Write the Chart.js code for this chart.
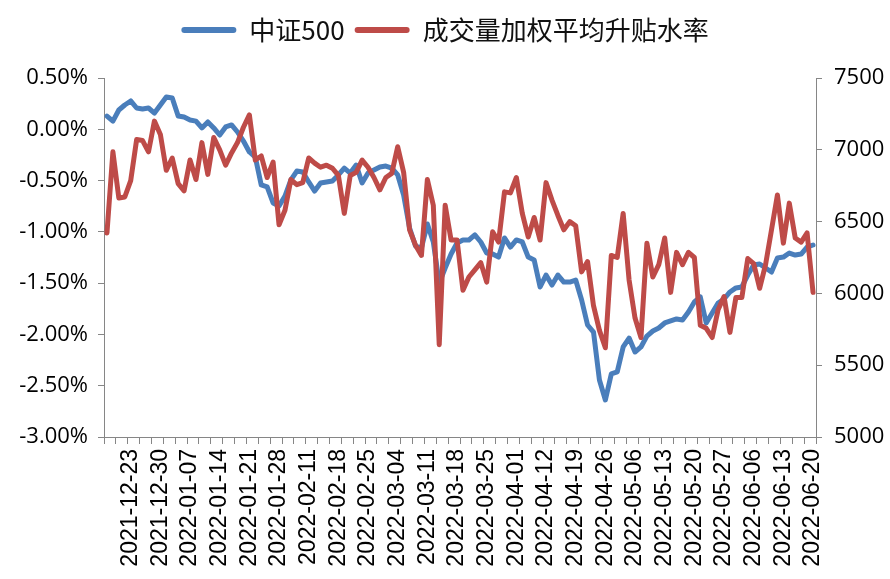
<!DOCTYPE html>
<html>
<head>
<meta charset="utf-8">
<script src="https://cdn.jsdelivr.net/npm/chart.js@4.4.1/dist/chart.umd.min.js"></script>
<style>
  html, body { margin: 0; padding: 0; background: #ffffff; }
  #wrap { width: 890px; height: 579px; }
</style>
</head>
<body>
<div id="wrap"><canvas id="c" width="890" height="579"></canvas></div>
<script>
// Trading days (categories)
const dates = [
  "2021-12-17","2021-12-20","2021-12-21","2021-12-22","2021-12-23","2021-12-24","2021-12-27","2021-12-28","2021-12-29","2021-12-30",
  "2021-12-31","2022-01-04","2022-01-05","2022-01-06","2022-01-07","2022-01-10","2022-01-11","2022-01-12","2022-01-13","2022-01-14",
  "2022-01-17","2022-01-18","2022-01-19","2022-01-20","2022-01-21","2022-01-24","2022-01-25","2022-01-26","2022-01-27","2022-01-28",
  "2022-02-07","2022-02-08","2022-02-09","2022-02-10","2022-02-11","2022-02-14","2022-02-15","2022-02-16","2022-02-17","2022-02-18",
  "2022-02-21","2022-02-22","2022-02-23","2022-02-24","2022-02-25","2022-02-28","2022-03-01","2022-03-02","2022-03-03","2022-03-04",
  "2022-03-07","2022-03-08","2022-03-09","2022-03-10","2022-03-11","2022-03-14","2022-03-15","2022-03-16","2022-03-17","2022-03-18",
  "2022-03-21","2022-03-22","2022-03-23","2022-03-24","2022-03-25","2022-03-28","2022-03-29","2022-03-30","2022-03-31","2022-04-01",
  "2022-04-06","2022-04-07","2022-04-08","2022-04-11","2022-04-12","2022-04-13","2022-04-14","2022-04-15","2022-04-18","2022-04-19",
  "2022-04-20","2022-04-21","2022-04-22","2022-04-25","2022-04-26","2022-04-27","2022-04-28","2022-04-29","2022-05-05","2022-05-06",
  "2022-05-09","2022-05-10","2022-05-11","2022-05-12","2022-05-13","2022-05-16","2022-05-17","2022-05-18","2022-05-19","2022-05-20",
  "2022-05-23","2022-05-24","2022-05-25","2022-05-26","2022-05-27","2022-05-30","2022-05-31","2022-06-01","2022-06-02","2022-06-06",
  "2022-06-07","2022-06-08","2022-06-09","2022-06-10","2022-06-13","2022-06-14","2022-06-15","2022-06-16","2022-06-17","2022-06-20"
];

// 中证500 (right axis)
const csi500 = [
  7235,7200,7277,7312,7340,7291,7284,7291,7256,7312,
  7368,7361,7235,7228,7208,7200,7152,7194,7152,7103,
  7159,7173,7124,7061,6985,6950,6755,6741,6630,6609,
  6678,6790,6852,6845,6776,6713,6769,6776,6783,6825,
  6873,6838,6894,6769,6838,6859,6880,6887,6873,6825,
  6685,6455,6330,6316,6483,6358,6072,6177,6274,6351,
  6372,6372,6407,6358,6281,6274,6253,6386,6323,6372,
  6358,6253,6233,6045,6128,6058,6128,6079,6079,6093,
  5954,5780,5731,5397,5258,5439,5453,5627,5689,5592,
  5627,5703,5738,5759,5794,5808,5822,5815,5871,5940,
  5975,5794,5864,5933,5961,6010,6038,6045,6128,6198,
  6205,6177,6149,6247,6253,6281,6267,6274,6323,6337
];

// 成交量加权平均升贴水率 (%, left axis)
const basisRate = [
  -1.01,-0.22,-0.67,-0.66,-0.50,-0.10,-0.11,-0.22,0.08,-0.05,
  -0.40,-0.28,-0.53,-0.60,-0.30,-0.49,-0.13,-0.44,-0.08,-0.20,
  -0.35,-0.23,-0.13,0.02,0.14,-0.30,-0.26,-0.47,-0.32,-0.93,
  -0.79,-0.49,-0.54,-0.52,-0.28,-0.33,-0.37,-0.35,-0.38,-0.45,
  -0.82,-0.45,-0.42,-0.30,-0.37,-0.47,-0.59,-0.47,-0.43,-0.17,
  -0.42,-0.98,-1.13,-1.23,-0.49,-0.74,-2.10,-0.74,-1.08,-1.08,
  -1.57,-1.44,-1.37,-1.30,-1.49,-1.00,-1.10,-0.61,-0.62,-0.47,
  -0.82,-1.05,-0.86,-1.08,-0.52,-0.69,-0.84,-0.98,-0.90,-0.94,
  -1.39,-1.29,-1.72,-1.96,-2.13,-1.23,-1.25,-0.82,-1.47,-1.84,
  -2.03,-1.11,-1.44,-1.32,-1.06,-1.59,-1.20,-1.32,-1.20,-1.25,
  -1.91,-1.94,-2.03,-1.76,-1.63,-1.98,-1.64,-1.64,-1.26,-1.31,
  -1.55,-1.32,-0.98,-0.64,-1.11,-0.72,-1.06,-1.10,-1.01,-1.59
];

const seriesNames = ["中证500", "成交量加权平均升贴水率"];
const FIRST_LABEL = 4;   // index of 2021-12-23
const LABEL_EVERY = 5;
const TICK_EVERY = 2;

const AXIS = '#868686';
const ctx = document.getElementById('c').getContext('2d');

new Chart(ctx, {
  type: 'line',
  data: {
    labels: dates,
    datasets: [
      {
        label: seriesNames[0],
        data: csi500,
        yAxisID: 'y1',
        borderColor: '#4A7EBB',
        backgroundColor: '#4A7EBB',
        borderWidth: 5,
        pointRadius: 0,
        tension: 0,
        borderJoinStyle: 'round',
        borderCapStyle: 'round',
        order: 1
      },
      {
        label: seriesNames[1],
        data: basisRate,
        yAxisID: 'y',
        borderColor: '#BE4B48',
        backgroundColor: '#BE4B48',
        borderWidth: 5,
        pointRadius: 0,
        tension: 0,
        borderJoinStyle: 'round',
        borderCapStyle: 'round',
        order: 0
      }
    ]
  },
  options: {
    responsive: false,
    animation: false,
    devicePixelRatio: 1,
    layout: { padding: { top: 7, left: 0, right: 0, bottom: 0 } },
    plugins: {
      tooltip: { enabled: false },
      legend: {
        display: true,
        position: 'top',
        weight: 3000,
        labels: {
          font: { family: "'Noto Sans CJK SC', 'Noto Sans', sans-serif", size: 26 },
          color: '#111',
          boxWidth: 55,
          boxHeight: 6,
          padding: 10,
          sort: (a, b) => a.datasetIndex - b.datasetIndex,
          generateLabels: (chart) => Chart.defaults.plugins.legend.labels.generateLabels(chart)
            .map(l => Object.assign(l, { lineWidth: 0, borderRadius: 3 }))
        }
      },
      title: {
        display: true,
        text: ' ',
        font: { size: 10 },
        padding: { top: 6, bottom: 7 }
      }
    },
    scales: {
      x: {
        type: 'category',
        offset: true,
        grid: {
          offset: true,
          drawOnChartArea: false,
          drawTicks: true,
          tickLength: 7,
          lineWidth: 1,
          color: (c) => (c.index === undefined || c.index % TICK_EVERY === 0) ? AXIS : 'rgba(0,0,0,0)'
        },
        border: { display: true, color: AXIS, width: 1 },
        ticks: {
          autoSkip: false,
          minRotation: 90,
          maxRotation: 90,
          padding: 5,
          color: '#000',
          font: { family: "'Liberation Sans', Arial, sans-serif", size: 23 },
          callback: function (v, i) {
            return (i >= FIRST_LABEL && (i - FIRST_LABEL) % LABEL_EVERY === 0) ? dates[i] : '';
          }
        },
        afterFit: (s) => { s.height = 142; }
      },
      y: {
        position: 'left',
        min: -3,
        max: 0.5,
        grid: { drawOnChartArea: false, drawTicks: true, tickLength: 6, color: AXIS },
        border: { display: true, color: AXIS, width: 1 },
        ticks: {
          stepSize: 0.5,
          padding: 10,
          color: '#000',
          font: { family: "'Open Sans', sans-serif", size: 22 },
          callback: (v) => (Math.abs(v) < 1e-9 ? 0 : v).toFixed(2) + '%'
        },
        afterFit: (s) => { s.width = 104; }
      },
      y1: {
        position: 'right',
        min: 5000,
        max: 7500,
        grid: { drawOnChartArea: false, drawTicks: true, tickLength: 6, color: AXIS },
        border: { display: true, color: AXIS, width: 1 },
        ticks: {
          stepSize: 500,
          padding: 12,
          color: '#000',
          font: { family: "'Open Sans', sans-serif", size: 22 },
          callback: (v) => String(v)
        },
        afterFit: (s) => { s.width = 74; }
      }
    }
  }
});
</script>
</body>
</html>
